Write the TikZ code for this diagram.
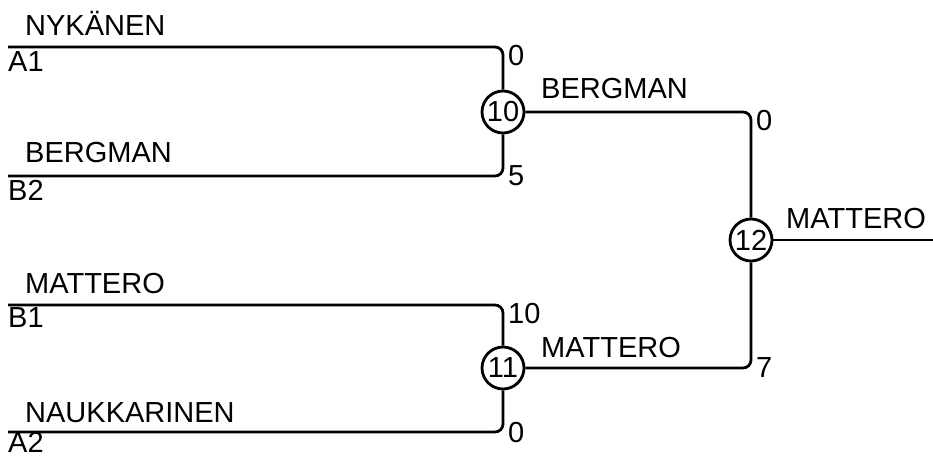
\documentclass[tikz,border=0pt]{standalone}
\usepackage{fontspec}
\setmainfont{Liberation Sans}
\usetikzlibrary{positioning, calc}
\tikzstyle{line} = [line width=2.8pt, rounded corners=8pt]

\begin{document}
\begin{tikzpicture}[x=1pt, y=-1pt, font=\fontsize{29}{34}\selectfont]
\tikzstyle{match} = [circle, draw, line width=2.8pt, minimum size=42pt, inner sep=0pt]
\tikzstyle{player} = [anchor=base west, inner sep=0pt]
\tikzstyle{score} = [anchor=base west, inner sep=0pt]

\useasboundingbox (0,0) rectangle (933,457);

% matches
\node (m10) [match] at (503,112) {10};
\node (m11) [match] at (503,368) {11};
\node (m12) [match] at (751,240) {12};

% first round
\coordinate (a1) at (8,47);
\coordinate (b2) at (8,176);
\coordinate (b1) at (8,305);
\coordinate (a2) at (8,432);
\coordinate (out) at (933,240);

\node (nykanen) [player] at ($(a1)+(17,-11)$) {NYKÄNEN};
\node (bergman) [player] at ($(b2)+(17,-13)$) {BERGMAN};
\node (mattero) [player] at ($(b1)+(17,-12)$) {MATTERO};
\node (naukkarinen) [player] at ($(a2)+(17,-10)$) {NAUKKARINEN};

\node (seeda1) [player] at ($(a1)+(0,25)$) {A1};
\node (seedb2) [player] at ($(b2)+(0,24)$) {B2};
\node (seedb1) [player] at ($(b1)+(0,22)$) {B1};
\node (seeda2) [player] at ($(a2)+(0,20)$) {A2};

% later rounds
\node (win10) [player] at (541,99) {BERGMAN};
\node (win11) [player] at (541,357) {MATTERO};
\node (win12) [player] at (786,228) {MATTERO};

% scores
\node (s1) [score] at (508,66) {0};
\node (s2) [score] at (508,185) {5};
\node (s3) [score] at (508,323) {10};
\node (s4) [score] at (508,442) {0};
\node (s5) [score] at (756,131) {0};
\node (s6) [score] at (756,377) {7};

\draw [line] (a1) -| (m10);
\draw [line] (b2) -| (m10);
\draw [line] (b1) -| (m11);
\draw [line] (a2) -| (m11);
\draw [line] (m10) -| (m12);
\draw [line] (m11) -| (m12);
\draw [line] (m12) -- (out);

\end{tikzpicture}
\end{document}
